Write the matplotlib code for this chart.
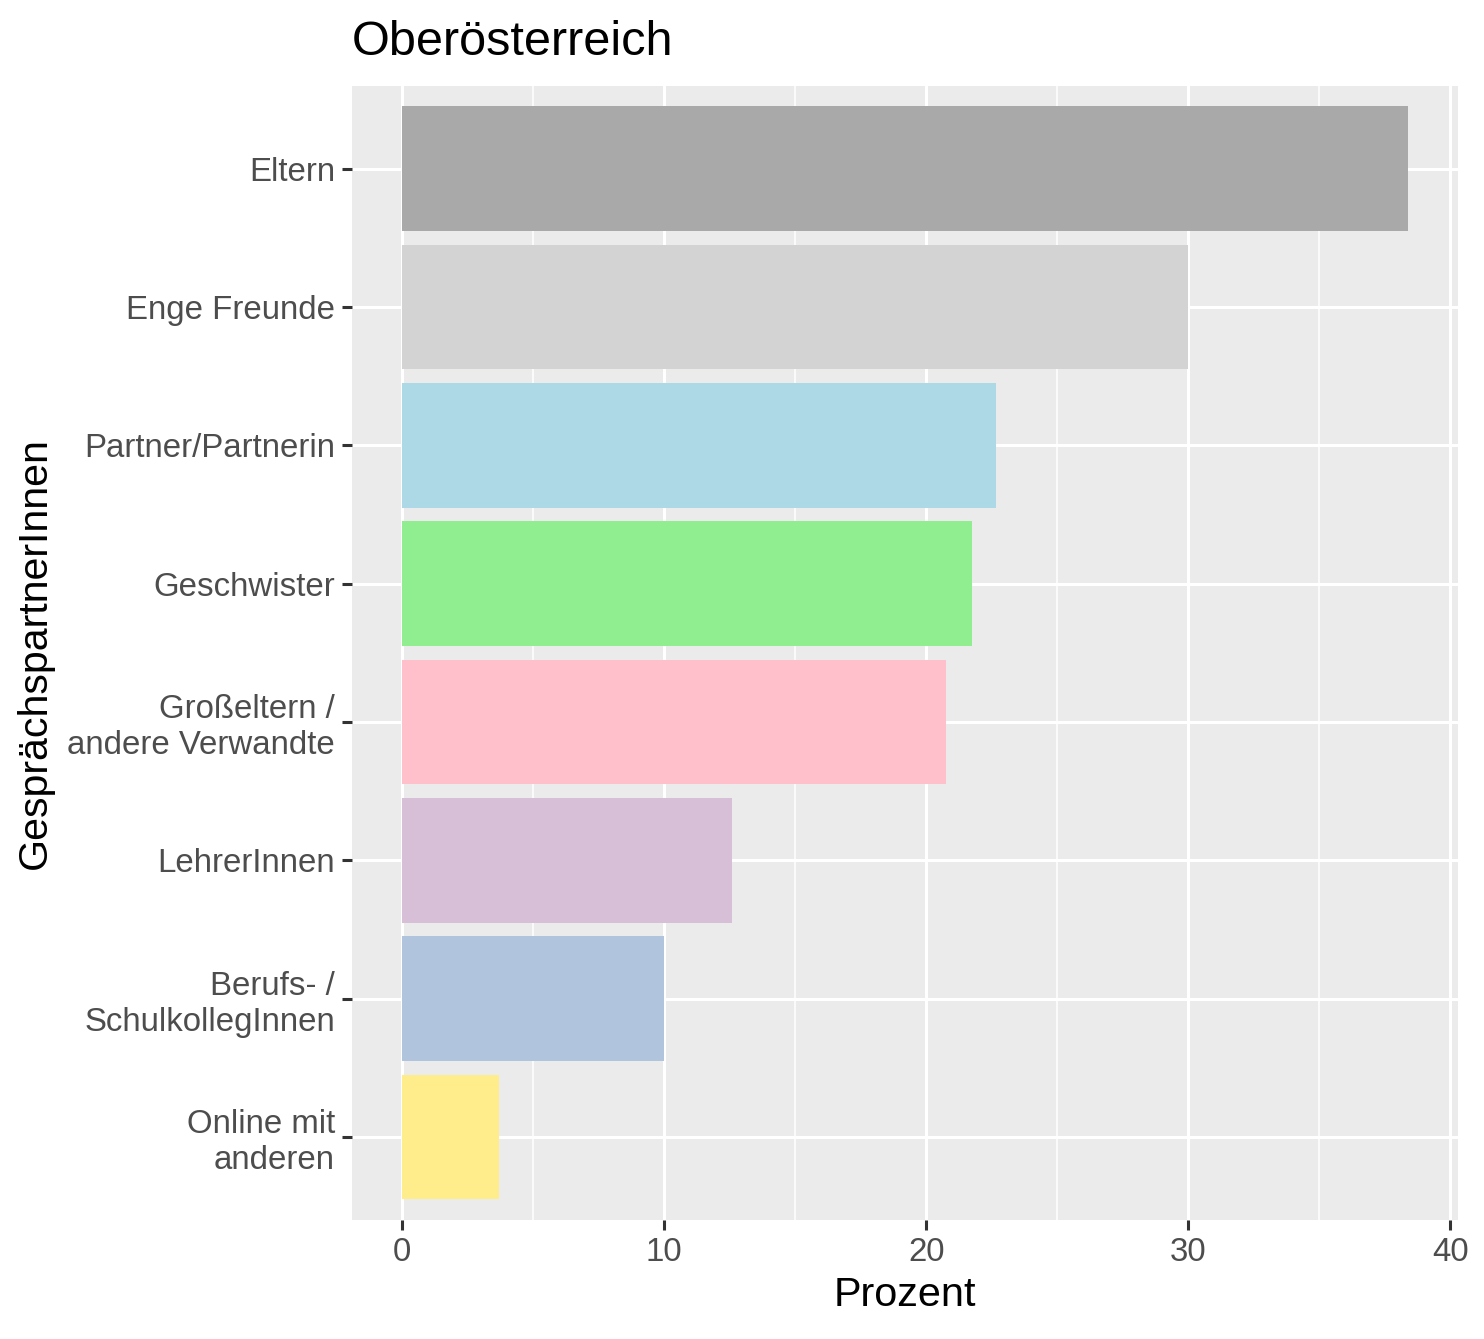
import matplotlib
matplotlib.use('Agg')
import matplotlib.pyplot as plt
from matplotlib.ticker import MultipleLocator

plt.rcParams['font.family'] = ['Liberation Sans', 'DejaVu Sans']

categories = ['Eltern', 'Enge Freunde', 'Partner/Partnerin', 'Geschwister',
              'Großeltern /\nandere Verwandte', 'LehrerInnen',
              'Berufs- /\nSchulkollegInnen', 'Online mit\nanderen']
prozent = [38.37, 30.0, 22.65, 21.75, 20.75, 12.6, 10.0, 3.7]
colors = ['#A9A9A9', '#D3D3D3', '#ADD8E6', '#90EE90', '#FFC0CB', '#D8BFD8',
          '#B0C4DE', '#FFEC8B']
xticks = [0, 10, 20, 30, 40]

fig = plt.figure(figsize=(14.84, 13.39), dpi=100)
ax = fig.add_axes([0.2370, 0.0889, 0.9825 - 0.2370, 0.9360 - 0.0889])
ax.set_facecolor('#EBEBEB')

n = len(categories)
ypos = list(range(n, 0, -1))
ax.barh(ypos, prozent, height=0.9, color=colors, zorder=3)

xmax = max(prozent)
ax.set_xlim(-0.05 * xmax, 1.05 * xmax)
ax.set_ylim(0.4, n + 0.6)

ax.set_xticks(xticks)
ax.xaxis.set_minor_locator(MultipleLocator(5))
ax.set_yticks(ypos)
ax.set_yticklabels(categories)

ax.grid(which='major', color='white', linewidth=2.2, zorder=1)
ax.grid(which='minor', axis='x', color='white', linewidth=1.1, zorder=1)
ax.tick_params(which='minor', length=0)
ax.tick_params(which='major', length=7, width=2.2, color='#333333',
               labelsize=23.8, labelcolor='#4D4D4D', pad=5)
for s in ax.spines.values():
    s.set_visible(False)

ax.set_xlabel('Prozent', fontsize=29.8, color='black', labelpad=6)
ax.set_ylabel('GesprächspartnerInnen', fontsize=29.6, color='black', labelpad=10)
ax.set_title('Oberösterreich', fontsize=35, loc='left', color='black', pad=22)

fig.savefig('out.png', dpi=100)
